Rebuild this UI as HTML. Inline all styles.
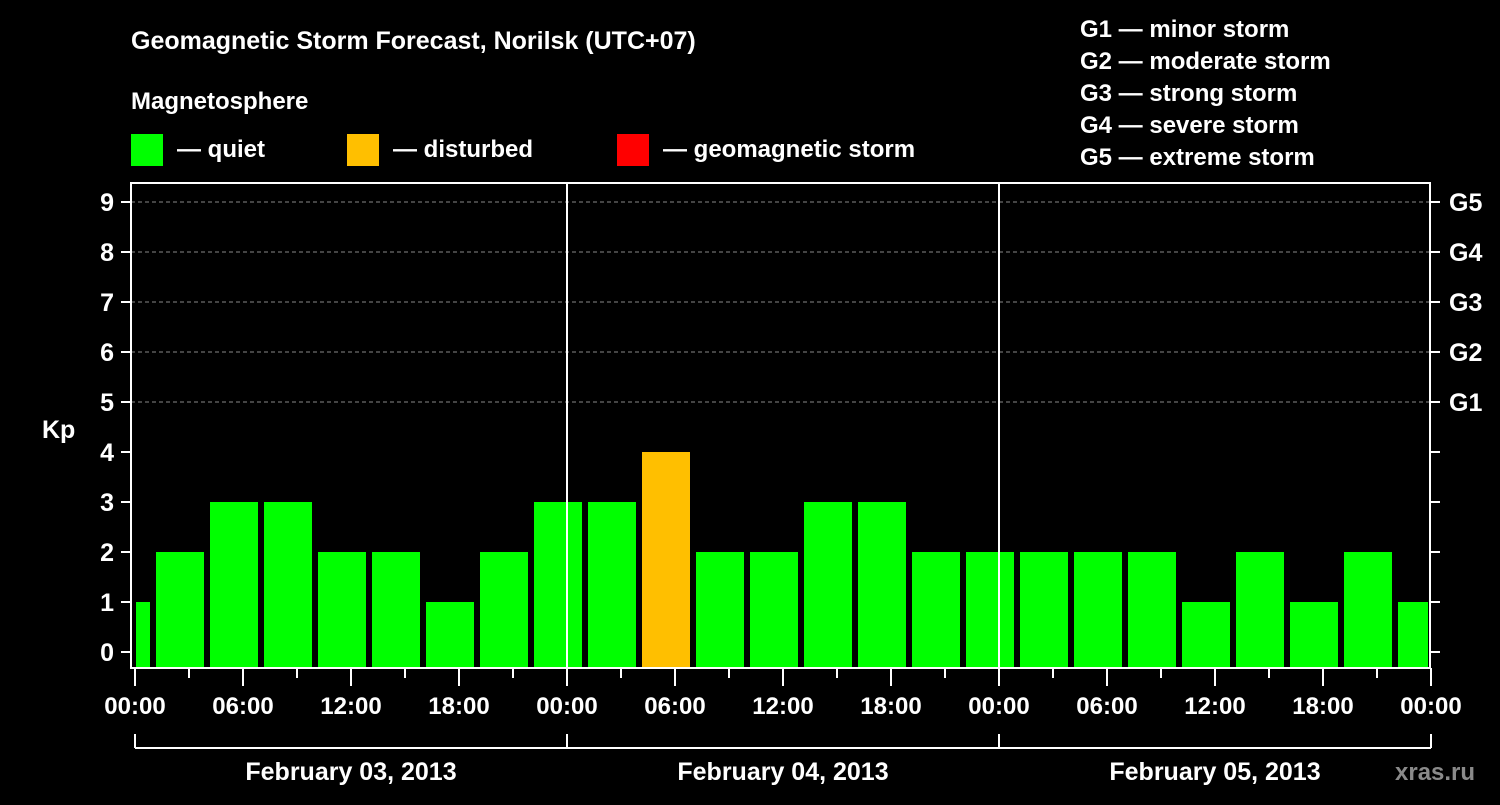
<!DOCTYPE html>
<html><head><meta charset="utf-8"><style>
body{margin:0;background:#000;}
svg text{font-family:"Liberation Sans",Arial,sans-serif;font-weight:bold;fill:#fff;}
</style></head><body>
<svg id="chart" width="1500" height="800" viewBox="0 0 1500 800" xmlns="http://www.w3.org/2000/svg">
<rect width="1500" height="800" fill="#000"/>
<text x="131" y="49" font-size="25">Geomagnetic Storm Forecast, Norilsk (UTC+07)</text>
<text x="131" y="109" font-size="24">Magnetosphere</text>
<g>
<rect x="131" y="134" width="32" height="32" fill="#00ff00"/>
<text x="177" y="157" font-size="24">— quiet</text>
<rect x="347" y="134" width="32" height="32" fill="#ffbf00"/>
<text x="393" y="157" font-size="24">— disturbed</text>
<rect x="617" y="134" width="32" height="32" fill="#ff0000"/>
<text x="663" y="157" font-size="24">— geomagnetic storm</text>
</g>
<g font-size="24">
<text x="1080" y="37">G1 — minor storm</text>
<text x="1080" y="69">G2 — moderate storm</text>
<text x="1080" y="101">G3 — strong storm</text>
<text x="1080" y="133">G4 — severe storm</text>
<text x="1080" y="165">G5 — extreme storm</text>
</g>
<text x="42" y="438" font-size="25">Kp</text>
<text x="1395" y="780" font-size="24" fill="#888" style="fill:#8a8a8a">xras.ru</text>
<g id="plot"></g>
</svg>
<script>
const kpValues=[1,2,3,3,2,2,1,2,3,3,4,2,2,3,3,2,2,2,2,2,1,2,1,2,1];
const barStartHours=-2; // first bar starts 2h before first day's 00:00 (centered at -0.5h)
const yTicks=[0,1,2,3,4,5,6,7,8,9];
const gLabels=["G1","G2","G3","G4","G5"];
const xLabels=["00:00","06:00","12:00","18:00","00:00","06:00","12:00","18:00","00:00","06:00","12:00","18:00","00:00"];
const dates=["February 03, 2013","February 04, 2013","February 05, 2013"];
const x0=135,pxH=432/24,plotL=131,plotR=1430,plotT=183,plotB=668;
const X=h=>x0+h*pxH, Y=v=>652-v*50;
const NS="http://www.w3.org/2000/svg",g=document.getElementById('plot');
function mk(t,a,p){const e=document.createElementNS(NS,t);for(const k in a)e.setAttribute(k,a[k]);(p||g).appendChild(e);return e;}
// gridlines
yTicks.forEach(v=>{if(v>=5){const l=mk('line',{x1:plotL,x2:plotR,y1:Y(v),y2:Y(v),stroke:'#888','stroke-dasharray':'4,3','stroke-width':1});

}});
// bars
kpValues.forEach((v,i)=>{
 const c=i*3+barStartHours+1.5;
 let a=X(c)-24,b=X(c)+24;a=Math.max(a,136);b=Math.min(b,1428);
 const r=mk('rect',{x:a,y:Y(v),width:b-a,height:plotB-Y(v),fill:v>=5?'#ff0000':(v>=4?'#ffbf00':'#00ff00')});
 
 
});
// day lines
[1,2].forEach(d=>{const l=mk('line',{x1:X(24*d),x2:X(24*d),y1:plotT,y2:plotB,stroke:'#fff','stroke-width':2});

});
// frame
const f=mk('rect',{x:plotL,y:plotT,width:plotR-plotL,height:plotB-plotT,fill:'none',stroke:'#fff','stroke-width':2});


// y ticks
yTicks.forEach(v=>{
 mk('line',{x1:121,x2:plotL,y1:Y(v),y2:Y(v),stroke:'#fff','stroke-width':2});
 mk('line',{x1:plotR,x2:1440,y1:Y(v),y2:Y(v),stroke:'#fff','stroke-width':2});
 const t=mk('text',{x:114,y:Y(v)+9,'font-size':25,'text-anchor':'end'});t.textContent=v;
 
 
});
gLabels.forEach((s,i)=>{const t=mk('text',{x:1449,y:Y(5+i)+9,'font-size':25});t.textContent=s;
 
 });
// x ticks
for(let h=0;h<=72;h+=3){const major=h%6==0;mk('line',{x1:X(h),x2:X(h),y1:plotB,y2:major?686:678,stroke:'#fff','stroke-width':2});}
xLabels.forEach((s,i)=>{const t=mk('text',{x:X(i*6),y:714,'font-size':24,'text-anchor':'middle'});t.textContent=s;
 
 });
// date bracket
mk('line',{x1:X(0),x2:X(72),y1:748,y2:748,stroke:'#fff','stroke-width':2});
[0,1,2,3].forEach(d=>mk('line',{x1:X(24*d),x2:X(24*d),y1:734,y2:748,stroke:'#fff','stroke-width':2}));
dates.forEach((s,i)=>{const t=mk('text',{x:X(24*i+12),y:780,'font-size':25,'text-anchor':'middle'});t.textContent=s;
 
 });
</script>
</body></html>
